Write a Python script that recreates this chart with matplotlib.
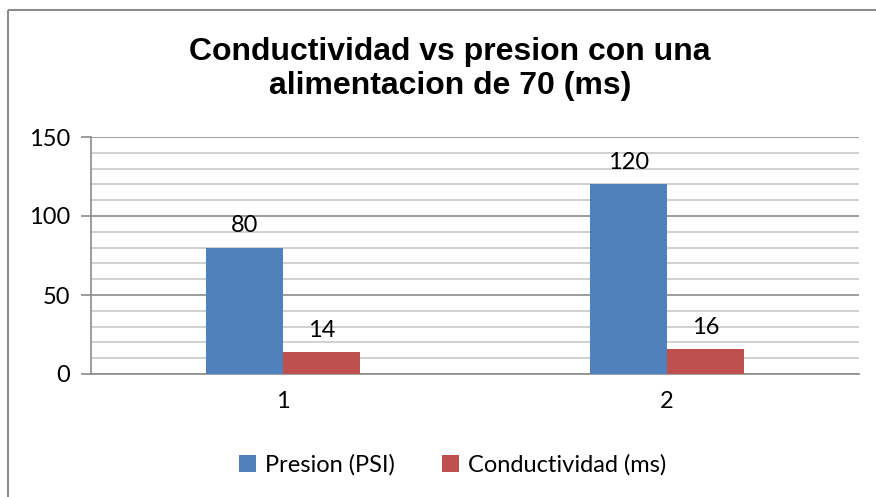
import matplotlib.pyplot as plt
from matplotlib.lines import Line2D
import numpy as np

categories = ['1', '2']
presion = [80, 120]
conductividad = [14, 16]
series_names = ['Presion (PSI)', 'Conductividad (ms)']
title = 'Conductividad vs presion con una\nalimentacion de 70 (ms)'

blue = '#4F81BD'
red = '#C0504D'
lab_font = 'Lato'
fs = 17

fig = plt.figure(figsize=(8.76, 4.97), dpi=100)
ax = fig.add_axes([91/876, 1 - 374/497, 768/876, (374 - 137)/497])

# outer frame (only top and left are visible in the original)
top = 1 - 10/497
left = 8/876
fig.add_artist(Line2D([left, 1.02], [top, top], transform=fig.transFigure,
                      color='#8c8c8c', linewidth=1.5, solid_capstyle='butt'))
fig.add_artist(Line2D([left, left], [-0.02, top], transform=fig.transFigure,
                      color='#8c8c8c', linewidth=1.5, solid_capstyle='butt'))

x = np.arange(1, len(categories) + 1)
w = 0.2
b1 = ax.bar(x - w/2, presion, w, color=blue, label=series_names[0], zorder=3)
b2 = ax.bar(x + w/2, conductividad, w, color=red, label=series_names[1], zorder=3)

for bars in (b1, b2):
    for r in bars:
        ax.annotate(f'{r.get_height():g}', (r.get_x() + r.get_width()/2, r.get_height()),
                    xytext=(0, 8), textcoords='offset points', ha='center', va='bottom',
                    fontsize=fs, family=lab_font)

ax.set_xlim(0.5, 2.5)
ax.set_ylim(0, 150)
ax.set_yticks([0, 50, 100, 150])
ax.set_yticks(np.arange(0, 151, 10), minor=True)
ax.set_xticks(x)
ax.set_xticklabels(categories)
ax.grid(axis='y', which='minor', color='#c8c8c8', linewidth=1.2, zorder=0)
ax.grid(axis='y', which='major', color='#8c8c8c', linewidth=1.2, zorder=1)

for s in ['top', 'right']:
    ax.spines[s].set_visible(False)
for s in ['left', 'bottom']:
    ax.spines[s].set_color('#8c8c8c')
    ax.spines[s].set_linewidth(1.2)
ax.tick_params(axis='y', which='major', length=7, color='#8c8c8c', width=1.2, labelsize=fs, pad=8)
ax.tick_params(axis='y', which='minor', length=0)
ax.tick_params(axis='x', length=0, labelsize=fs, pad=12)
for t in ax.get_xticklabels() + ax.get_yticklabels():
    t.set_family(lab_font)

fig.text(450/876, 1 - 69/497, title, ha='center', va='center', fontsize=23,
         fontweight='bold', family='Liberation Sans', linespacing=1.2)

fig.legend(loc='center', bbox_to_anchor=(453/876, 1 - 465/497), ncol=2, frameon=False,
           handlelength=0.7, handleheight=0.7, handletextpad=0.4, columnspacing=2.0,
           prop={'family': lab_font, 'size': fs})

fig.savefig('out.png', dpi=100)
